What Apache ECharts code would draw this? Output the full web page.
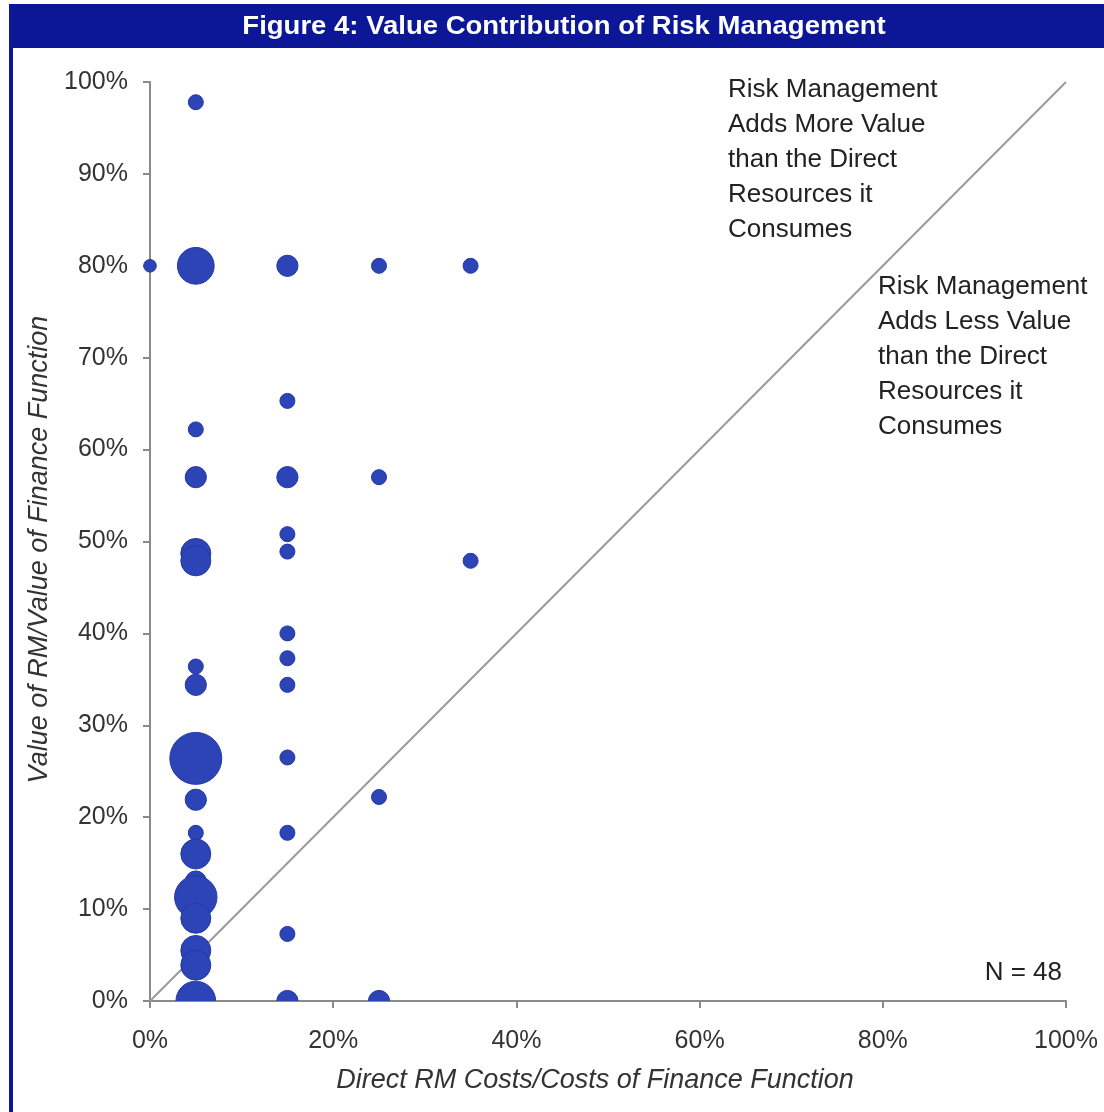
<!DOCTYPE html>
<html>
<head>
<meta charset="utf-8">
<script src="https://cdn.jsdelivr.net/npm/echarts@6/dist/echarts.min.js"></script>
<style>
  html, body { margin: 0; padding: 0; background: #ffffff; }
  #chart { width: 1104px; height: 1112px; }
</style>
</head>
<body>
<div id="chart"></div>
<script>
// Direct RM cost share (%) per bubble
const costShare = [
  0, 5, 5, 15, 25, 35,
  5, 15,
  5, 15, 25,
  15, 15, 5, 5, 35,
  15, 15, 15, 5, 5,
  5, 15,
  5, 25, 15, 5,
  5, 5, 5, 5, 5, 5, 15,
  5, 15, 25
];
// Value of RM relative to finance function (%)
const valueShare = [
  80, 97.8, 80, 80, 80, 80,
  62.2, 65.3,
  57, 57, 57,
  50.8, 48.9, 48.7, 47.9, 47.9,
  40, 37.3, 34.4, 36.4, 34.4,
  26.4, 26.5,
  21.9, 22.2, 18.3, 18.3,
  16.0, 13.0, 11.3, 9.0, 5.5, 3.9, 7.3,
  0, 0, 0
];
// Number of respondents in each bubble
const respondents = [
  1, 1, 6, 2, 1, 1,
  1, 1,
  2, 2, 1,
  1, 1, 4, 4, 1,
  1, 1, 1, 1, 2,
  12, 1,
  2, 1, 1, 1,
  4, 2, 8, 4, 4, 4, 1,
  7, 2, 2
];
const xTicks = ['0%', '20%', '40%', '60%', '80%', '100%'];
const yTicks = ['0%', '10%', '20%', '30%', '40%', '50%', '60%', '70%', '80%', '90%', '100%'];
const parityLine = [[0, 0], [100, 100]];

const titleText = 'Figure 4: Value Contribution of Risk Management';
const moreValueNote = ['Risk Management', 'Adds More Value', 'than the Direct', 'Resources it', 'Consumes'];
const lessValueNote = ['Risk Management', 'Adds Less Value', 'than the Direct', 'Resources it', 'Consumes'];
const sampleNote = 'N = 48';

const points = costShare.map((x, i) => [x, valueShare[i], respondents[i]]);
// bubbles sitting on the y axis stay whole; the rest are clipped to the plot area
const edgePoints = points.filter(p => p[0] === 0);
const innerPoints = points.filter(p => p[0] !== 0);

const bubbleColor = '#2c44b6';
const bubbleEdge = '#2438a8';
const textFont = '"Liberation Sans", Arial, sans-serif';
const axisGray = '#8a8a8a';

function bubble(unitRadius) {
  return function (params, api) {
    const c = api.coord([api.value(0), api.value(1)]);
    return {
      type: 'circle',
      shape: { cx: c[0], cy: c[1], r: unitRadius * Math.sqrt(api.value(2)) },
      style: { fill: bubbleColor, stroke: bubbleEdge, lineWidth: 1 }
    };
  };
}

const chart = echarts.init(document.getElementById('chart'), null, { renderer: 'canvas' });

chart.setOption({
  animation: false,
  backgroundColor: '#ffffff',
  grid: { left: 150, right: 38, top: 82, bottom: 111 },
  xAxis: {
    type: 'value', min: 0, max: 100, interval: 20,
    name: 'Direct RM Costs/Costs of Finance Function',
    nameLocation: 'middle', nameGap: 66,
    nameTextStyle: { fontFamily: textFont, fontStyle: 'italic', fontSize: 27, color: '#333', padding: [0, 26, 0, 0] },
    axisLine: { show: true, lineStyle: { color: axisGray, width: 2 } },
    axisTick: { show: true, length: 7, lineStyle: { color: axisGray, width: 2 } },
    axisLabel: {
      margin: 28, fontFamily: textFont, fontSize: 25, color: '#333',
      formatter: v => xTicks[Math.round(v / 20)]
    },
    splitLine: { show: false }
  },
  yAxis: {
    type: 'value', min: 0, max: 100, interval: 10,
    name: 'Value of RM/Value of Finance Function',
    nameLocation: 'middle', nameGap: 89,
    nameTextStyle: { fontFamily: textFont, fontStyle: 'italic', fontSize: 27, color: '#333', padding: [0, 16, 0, 0] },
    axisLine: { show: true, lineStyle: { color: axisGray, width: 2 } },
    axisTick: { show: true, length: 7, lineStyle: { color: axisGray, width: 2 } },
    axisLabel: {
      margin: 22, fontFamily: textFont, fontSize: 25, color: '#333',
      formatter: v => yTicks[Math.round(v / 10)]
    },
    splitLine: { show: false }
  },
  series: [
    {
      type: 'line',
      data: parityLine,
      symbol: 'none',
      lineStyle: { color: '#9a9a9a', width: 2 },
      z: 1,
      silent: true
    },
    {
      type: 'custom',
      data: innerPoints,
      renderItem: bubble(7.5),
      clip: true,
      z: 3
    },
    {
      type: 'custom',
      data: edgePoints,
      renderItem: bubble(6.3),
      clip: false,
      z: 3
    }
  ],
  graphic: [
    { type: 'rect', left: 9, top: 4, shape: { width: 1095, height: 44 }, style: { fill: '#0b1797' }, z: 10 },
    { type: 'rect', left: 9, top: 4, shape: { width: 4, height: 1108 }, style: { fill: '#0b1797' }, z: 10 },
    {
      type: 'text', x: 564, y: 27, z: 11, scaleX: 1.1,
      style: {
        text: titleText, fill: '#ffffff',
        font: 'bold 25px ' + textFont,
        align: 'center', verticalAlign: 'middle'
      }
    },
    {
      type: 'text', x: 728, y: 72, z: 11,
      style: { text: moreValueNote.join('\n'), fill: '#222', font: '26px ' + textFont, lineHeight: 35, align: 'left', verticalAlign: 'top' }
    },
    {
      type: 'text', x: 878, y: 269, z: 11,
      style: { text: lessValueNote.join('\n'), fill: '#222', font: '26px ' + textFont, lineHeight: 35, align: 'left', verticalAlign: 'top' }
    },
    {
      type: 'text', x: 1062, y: 973, z: 11,
      style: { text: sampleNote, fill: '#222', font: '26px ' + textFont, align: 'right', verticalAlign: 'middle' }
    }
  ]
});
</script>
</body>
</html>
